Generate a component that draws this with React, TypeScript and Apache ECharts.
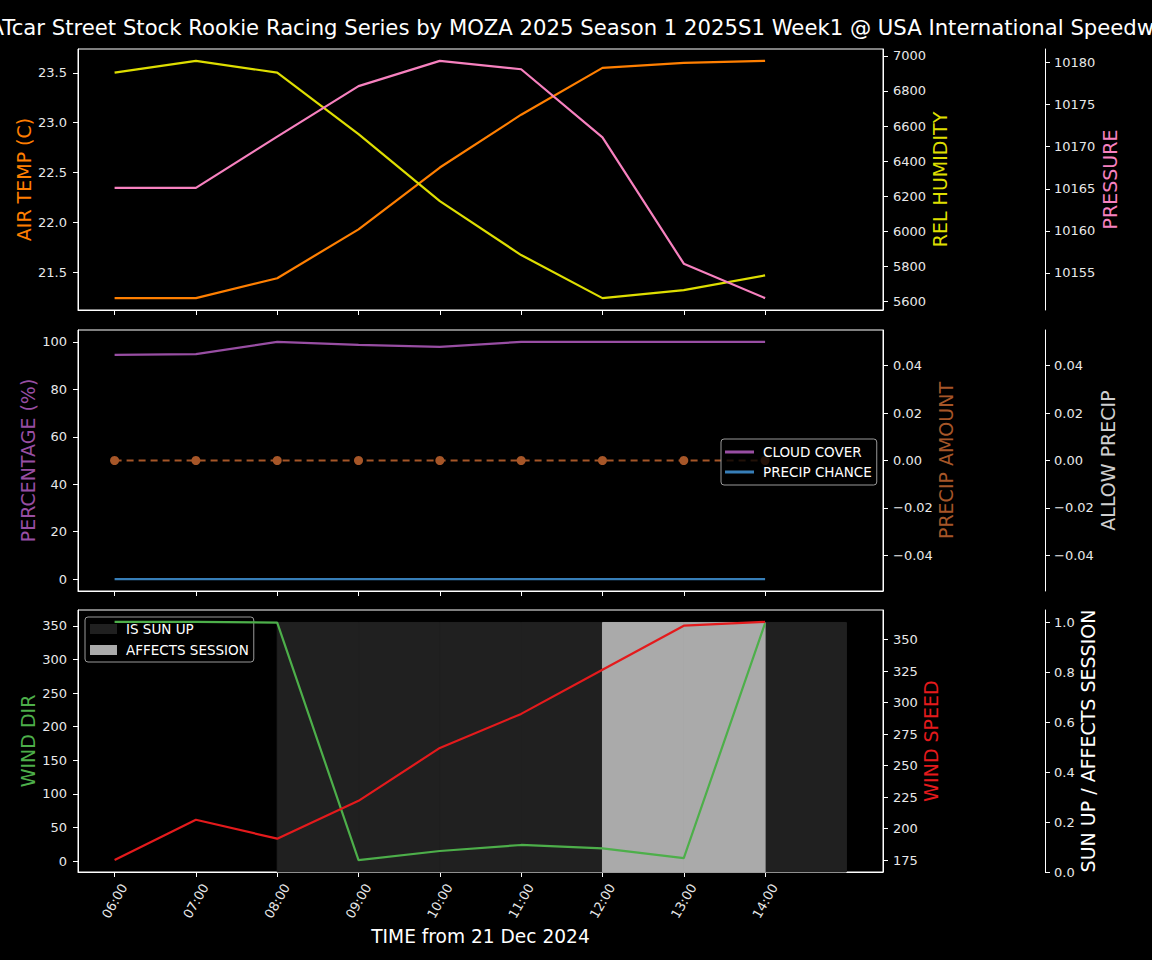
import React, { useEffect, useRef } from "react";
import * as echarts from "echarts";

const FONT = "DejaVu Sans";
const TICK_COLOR = "#e8e8e8";

const TITLE = "ATcar Street Stock Rookie Racing Series by MOZA 2025 Season 1 2025S1 Week1 @ USA International Speedway";
const X_TITLE = "TIME from 21 Dec 2024";

const hours = ["06:00", "07:00", "08:00", "09:00", "10:00", "11:00", "12:00", "13:00", "14:00"];

const airTemp = [21.24, 21.24, 21.44, 21.93, 22.55, 23.08, 23.55, 23.6, 23.62];
const relHumidity = [6905, 6972, 6905, 6554, 6171, 5863, 5617, 5663, 5747];
const pressure = [10165.1, 10165.1, 10171.2, 10177.2, 10180.2, 10179.2, 10171.1, 10156.1, 10152.0];

const cloudCover = [94.5, 94.8, 100, 98.7, 97.9, 100, 100, 100, 100];
const precipChance = [0, 0, 0, 0, 0, 0, 0, 0, 0];
const precipAmount = [0, 0, 0, 0, 0, 0, 0, 0, 0];

const windDir = [356, 356, 355, 1.5, 15, 24, 19, 4.5, 354];
const windSpeed = [175, 207, 192, 222, 264, 291, 326, 361, 364];

const sunUp = [0, 0, 1, 1, 1, 1, 1, 1, 1];
const affectsSession = [0, 0, 0, 0, 0, 0, 1, 1, 0];

const tempTicks = [21.5, 22.0, 22.5, 23.0, 23.5];
const humidityTicks = [5600, 5800, 6000, 6200, 6400, 6600, 6800, 7000];
const pressureTicks = [10155, 10160, 10165, 10170, 10175, 10180];
const percentTicks = [0, 20, 40, 60, 80, 100];
const precipTicks = [-0.04, -0.02, 0, 0.02, 0.04];
const windDirTicks = [0, 50, 100, 150, 200, 250, 300, 350];
const windSpeedTicks = [175, 200, 225, 250, 275, 300, 325, 350];
const sunTicks = [0, 0.2, 0.4, 0.6, 0.8, 1.0];

const COLORS = {
  temp: "#ff7f00",
  humidity: "#dede00",
  pressure: "#f781bf",
  cloud: "#984ea3",
  precipChance: "#377eb8",
  precipAmount: "#a65628",
  allowPrecip: "#cfcfcf",
  windDir: "#4daf4a",
  windSpeed: "#e41a1c",
  sunUp: "#202020",
  session: "#aaaaaa",
};

const LINE_W = 2.2;
const NAME_SIZE = 19;

// matplotlib-like 5% margins
function padRange(vals: number[], stickyZero = false): [number, number] {
  let lo = Math.min(...vals);
  let hi = Math.max(...vals);
  if (hi === lo) {
    lo -= 0.05;
    hi += 0.05;
  }
  const r = hi - lo;
  return [stickyZero ? lo : lo - 0.05 * r, hi + 0.05 * r];
}

const fmtMinus = (s: string) => s.replace("-", "\u2212");

function yAxis(
  gridIndex: number,
  position: "left" | "right",
  offset: number,
  name: string,
  nameColor: string,
  range: [number, number],
  ticks: number[],
  fmt: (v: number) => string,
  nameGap: number,
  margin: number
) {
  return {
    type: "value",
    gridIndex,
    position,
    offset,
    name,
    nameLocation: "middle",
    nameGap,
    nameMoveOverlap: false,
    nameTextStyle: { color: nameColor, fontSize: NAME_SIZE, fontFamily: FONT },
    min: range[0],
    max: range[1],
    axisLine: { show: true, onZero: false, lineStyle: { color: "#ffffff", width: 1 } },
    axisTick: { show: true, length: 5, customValues: ticks, lineStyle: { color: "#ffffff" } },
    axisLabel: {
      show: true,
      customValues: ticks,
      formatter: (v: number) => fmt(v),
      color: TICK_COLOR,
      fontSize: 13,
      fontFamily: FONT,
      margin,
    },
    splitLine: { show: false },
  };
}

const xTicks = hours.map((_, i) => i);
const xRange = padRange([0, hours.length]);

function xAxis(gridIndex: number, showLabels: boolean) {
  return {
    type: "value",
    gridIndex,
    min: xRange[0],
    max: xRange[1],
    axisLine: { show: true, onZero: false, lineStyle: { color: "#ffffff", width: 1 } },
    axisTick: { show: true, length: 5, customValues: xTicks, lineStyle: { color: "#ffffff" } },
    axisLabel: {
      show: showLabels,
      customValues: xTicks,
      formatter: (v: number) => hours[Math.round(v)] ?? "",
      rotate: 60,
      align: "center",
      verticalAlign: "middle",
      margin: 29,
      color: TICK_COLOR,
      fontSize: 13,
      fontFamily: FONT,
    },
    splitLine: { show: false },
  };
}

function lineSeries(name: string, data: number[], color: string, xAxisIndex: number, yAxisIndex: number, extra: any = {}) {
  return {
    type: "line",
    name,
    xAxisIndex,
    yAxisIndex,
    data: data.map((v, i) => [i, v]),
    showSymbol: false,
    symbol: "none",
    lineStyle: { color, width: LINE_W },
    itemStyle: { color },
    z: 5,
    ...extra,
  };
}

function barSeries(name: string, data: number[], color: string) {
  return {
    type: "custom",
    name,
    xAxisIndex: 2,
    yAxisIndex: 8,
    coordinateSystem: "cartesian2d",
    itemStyle: { color },
    z: 1,
    encode: { x: 0, y: 1 },
    data: data.map((v, i) => [i, v]).filter((d) => d[1] > 0),
    renderItem: (_params: any, api: any) => {
      const x = api.value(0);
      const v = api.value(1);
      const p0 = api.coord([x, 0]);
      const p1 = api.coord([x + 1, v]);
      return {
        type: "rect",
        shape: { x: p0[0], y: p1[1], width: p1[0] - p0[0], height: p0[1] - p1[1] },
        style: { fill: color, stroke: color, lineWidth: 1 },
      };
    },
  };
}

export default function App() {
  const ref = useRef<HTMLDivElement>(null);

  useEffect(() => {
    if (!ref.current) return;
    const chart = echarts.init(ref.current, undefined, { renderer: "svg" });

    const gridBase = { left: 78, width: 805, show: true, borderColor: "#ffffff", borderWidth: 1, backgroundColor: "#000000" };

    const legendText = { color: "#ffffff", fontSize: 13.5, fontFamily: FONT, padding: [0, 0, 0, 4] };

    const option: any = {
      animation: false,
      backgroundColor: "#000000",
      textStyle: { fontFamily: FONT },
      grid: [
        { ...gridBase, top: 49, height: 261 },
        { ...gridBase, top: 330, height: 261 },
        { ...gridBase, top: 610, height: 262 },
      ],
      xAxis: [xAxis(0, false), xAxis(1, false), xAxis(2, true)],
      yAxis: [
        yAxis(0, "left", 0, "AIR TEMP (C)", COLORS.temp, padRange(airTemp), tempTicks, (v) => v.toFixed(1), 45, 11),
        yAxis(0, "right", 0, "REL HUMIDITY", COLORS.humidity, padRange(relHumidity), humidityTicks, (v) => v.toFixed(0), 47, 10),
        yAxis(0, "right", 162, "PRESSURE", COLORS.pressure, padRange(pressure), pressureTicks, (v) => v.toFixed(0), 55, 9),
        yAxis(1, "left", 0, "PERCENTAGE (%)", COLORS.cloud, padRange([...cloudCover, ...precipChance]), percentTicks, (v) => v.toFixed(0), 41, 11),
        yAxis(1, "right", 0, "PRECIP AMOUNT", COLORS.precipAmount, padRange(precipAmount), precipTicks, (v) => fmtMinus(v.toFixed(2)), 53, 10),
        yAxis(1, "right", 162, "ALLOW PRECIP", COLORS.allowPrecip, padRange(precipAmount), precipTicks, (v) => fmtMinus(v.toFixed(2)), 53, 9),
        yAxis(2, "left", 0, "WIND DIR", COLORS.windDir, padRange(windDir), windDirTicks, (v) => v.toFixed(0), 41, 11),
        yAxis(2, "right", 0, "WIND SPEED", COLORS.windSpeed, padRange(windSpeed), windSpeedTicks, (v) => v.toFixed(0), 38, 10),
        yAxis(2, "right", 162, "SUN UP / AFFECTS SESSION", "#ffffff", padRange([...sunUp, ...affectsSession], true), sunTicks, (v) => v.toFixed(1), 33, 9),
      ],
      legend: [
        {
          orient: "vertical",
          left: 721,
          top: 439,
          z: 8,
          selectedMode: false,
          data: [
            { name: "CLOUD COVER", icon: "rect" },
            { name: "PRECIP CHANCE", icon: "rect" },
          ],
          itemWidth: 29,
          itemHeight: 3,
          itemGap: 6,
          textStyle: legendText,
          backgroundColor: "rgba(0,0,0,0.8)",
          borderColor: "#999999",
          borderWidth: 1,
          borderRadius: 3,
          padding: [6, 5, 6, 4],
        },
        {
          orient: "vertical",
          left: 85,
          top: 617,
          z: 2,
          selectedMode: false,
          data: [
            { name: "IS SUN UP", icon: "rect" },
            { name: "AFFECTS SESSION", icon: "rect" },
          ],
          itemWidth: 27,
          itemHeight: 10,
          itemGap: 7,
          textStyle: legendText,
          backgroundColor: "rgba(0,0,0,0.8)",
          borderColor: "#999999",
          borderWidth: 1,
          borderRadius: 3,
          padding: [5, 5, 5, 5],
        },
      ],
      graphic: [
        {
          type: "text",
          left: -10.5,
          top: 17,
          style: { text: TITLE, fill: "#ffffff", fontSize: 21.2, fontFamily: FONT },
        },
        {
          type: "text",
          x: 480.5,
          y: 936,
          style: { text: X_TITLE, fill: "#ffffff", fontSize: 18.6, fontFamily: FONT, align: "center", verticalAlign: "middle" },
        },
      ],
      series: [
        lineSeries("AIR TEMP", airTemp, COLORS.temp, 0, 0),
        lineSeries("REL HUMIDITY", relHumidity, COLORS.humidity, 0, 1),
        lineSeries("PRESSURE", pressure, COLORS.pressure, 0, 2),
        lineSeries("CLOUD COVER", cloudCover, COLORS.cloud, 1, 3),
        lineSeries("PRECIP CHANCE", precipChance, COLORS.precipChance, 1, 3),
        lineSeries("PRECIP AMOUNT", precipAmount, COLORS.precipAmount, 1, 4, {
          showSymbol: true,
          symbol: "circle",
          symbolSize: 9,
          lineStyle: { color: COLORS.precipAmount, width: LINE_W, type: [7, 5] },
          z: 6,
        }),
        barSeries("IS SUN UP", sunUp, COLORS.sunUp),
        barSeries("AFFECTS SESSION", affectsSession, COLORS.session),
        lineSeries("WIND DIR", windDir, COLORS.windDir, 2, 6),
        lineSeries("WIND SPEED", windSpeed, COLORS.windSpeed, 2, 7),
      ],
    };

    chart.setOption(option);
    return () => chart.dispose();
  }, []);

  return (
    <div
      ref={ref}
      style={{ position: "fixed", left: 0, top: 0, width: 1152, height: 960, background: "#000000" }}
    />
  );
}
